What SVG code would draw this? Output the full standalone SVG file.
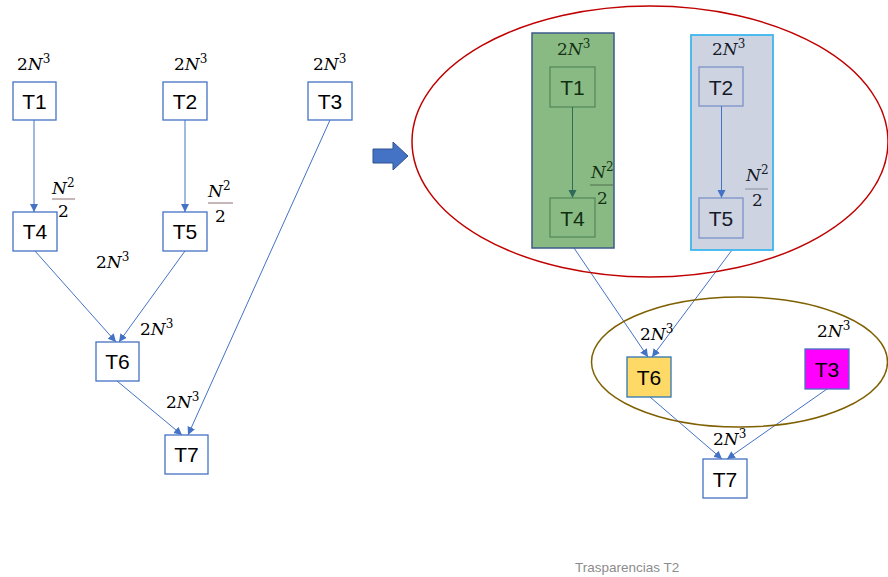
<svg xmlns="http://www.w3.org/2000/svg" width="888" height="577" viewBox="0 0 888 577">
<defs>
<style>
.box{fill:#fff;stroke:#4472c4;stroke-width:1.3}
.lbl{font-family:"Liberation Sans",Arial,sans-serif;font-size:21px;fill:#000;text-anchor:middle}
.m{font-family:"DejaVu Serif","Liberation Serif",serif;font-size:17px;fill:#000}
.conn{stroke:#4472c4;stroke-width:1;fill:none;marker-end:url(#ah)}
.fr{stroke:#8c7070;stroke-width:1}
</style>
<marker id="ah" markerUnits="userSpaceOnUse" markerWidth="10" markerHeight="10" refX="8" refY="4" orient="auto">
<path d="M0,0 L8,4 L0,8 Z" fill="#4472c4"/>
</marker>
<marker id="ahg" markerUnits="userSpaceOnUse" markerWidth="10" markerHeight="10" refX="8" refY="4" orient="auto">
<path d="M0,0 L8,4 L0,8 Z" fill="#2f6b5a"/>
</marker>
</defs>
<rect width="888" height="577" fill="#fff"/>

<g id="connectors">
<path class="conn" d="M34,120 L34,212"/>
<path class="conn" d="M185,120 L185,212"/>
<path class="conn" d="M35,251 L116,342"/>
<path class="conn" d="M185,251 L119,342"/>
<path class="conn" d="M117,381 L182,435"/>
<path class="conn" d="M330,120 L188,435"/>
<path class="conn" d="M574,248 L648,357"/>
<path class="conn" d="M732,250 L652,357"/>
<path class="conn" d="M650,397 L722,459"/>
<path class="conn" d="M827,389 L727,459"/>
</g>

<g id="left-T1"><rect class="box" x="13" y="82" width="43" height="38"/><text class="lbl" x="34.5" y="109">T1</text>
<text class="m" x="17" y="70">2<tspan font-style="italic">N</tspan><tspan font-size="12" dy="-7">3</tspan></text></g>
<g id="left-T2"><rect class="box" x="163" y="82" width="44" height="38"/><text class="lbl" x="185" y="109">T2</text>
<text class="m" x="174" y="70">2<tspan font-style="italic">N</tspan><tspan font-size="12" dy="-7">3</tspan></text></g>
<g id="left-T3"><rect class="box" x="308" y="82" width="44" height="38"/><text class="lbl" x="330" y="109">T3</text>
<text class="m" x="313" y="70">2<tspan font-style="italic">N</tspan><tspan font-size="12" dy="-7">3</tspan></text></g>
<g id="left-T4"><rect class="box" x="13" y="212" width="44" height="39"/><text class="lbl" x="35" y="239">T4</text>
<text class="m" x="52" y="194"><tspan font-style="italic">N</tspan><tspan font-size="12" dy="-7">2</tspan></text>
<line class="fr" x1="52" y1="199" x2="75" y2="199"/>
<text class="m" x="58" y="217">2</text></g>
<g id="left-T5"><rect class="box" x="163" y="212" width="44" height="39"/><text class="lbl" x="185" y="239">T5</text>
<text class="m" x="208" y="197"><tspan font-style="italic">N</tspan><tspan font-size="12" dy="-7">2</tspan></text>
<line class="fr" x1="208" y1="203" x2="233" y2="203"/>
<text class="m" x="215" y="222">2</text></g>
<g id="left-T6"><rect class="box" x="96" y="342" width="43" height="39"/><text class="lbl" x="117.5" y="369">T6</text>
<text class="m" x="96" y="268">2<tspan font-style="italic">N</tspan><tspan font-size="12" dy="-7">3</tspan></text>
<text class="m" x="140" y="335">2<tspan font-style="italic">N</tspan><tspan font-size="12" dy="-7">3</tspan></text></g>
<g id="left-T7"><rect class="box" x="165" y="435" width="43" height="39"/><text class="lbl" x="186.5" y="462">T7</text>
<text class="m" x="166" y="408">2<tspan font-style="italic">N</tspan><tspan font-size="12" dy="-7">3</tspan></text></g>

<g id="block-arrow"><polygon points="373,149 393,149 393,142 408,156 393,170 393,163 373,163" fill="#4472c4" stroke="#2f528f" stroke-width="1"/></g>

<g id="red-group"><ellipse cx="650" cy="141.5" rx="238" ry="135.5" fill="none" stroke="#c00000" stroke-width="1.5"/></g>

<g id="green-cluster">
<rect x="532" y="33" width="82" height="215" fill="#8aba84" stroke="#3d5a8a" stroke-width="1.5"/>
<text class="m" x="557" y="55" style="fill:#143214">2<tspan font-style="italic">N</tspan><tspan font-size="12" dy="-7">3</tspan></text>
<rect x="550" y="67" width="45" height="40" fill="none" stroke="#558a5c" stroke-width="1.3"/>
<text class="lbl" x="572.5" y="95" style="fill:#0f2f10">T1</text>
<path d="M572.5,107 L572.5,198" stroke="#2f6b5a" stroke-width="1" marker-end="url(#ahg)"/>
<rect x="550" y="198" width="45" height="39" fill="none" stroke="#558a5c" stroke-width="1.3"/>
<text class="lbl" x="572.5" y="226" style="fill:#0f2f10">T4</text>
<text class="m" x="591" y="178" style="fill:#143214"><tspan font-style="italic">N</tspan><tspan font-size="12" dy="-7">2</tspan></text>
<line x1="590" y1="185" x2="613" y2="185" stroke="#4a6e4a" stroke-width="1"/>
<text class="m" x="597" y="204" style="fill:#143214">2</text>
</g>

<g id="gray-cluster">
<rect x="691" y="35" width="82" height="215" fill="#cdd3e1" stroke="#3fb6ef" stroke-width="1.8"/>
<text class="m" x="712" y="55" style="fill:#151a28">2<tspan font-style="italic">N</tspan><tspan font-size="12" dy="-7">3</tspan></text>
<rect x="699" y="67" width="44" height="39" fill="none" stroke="#7a93c8" stroke-width="1.3"/>
<text class="lbl" x="721" y="95" style="fill:#151a28">T2</text>
<path class="conn" d="M721.5,106 L721.5,198"/>
<rect x="699" y="198" width="44" height="40" fill="none" stroke="#7a93c8" stroke-width="1.3"/>
<text class="lbl" x="721" y="226" style="fill:#151a28">T5</text>
<text class="m" x="746" y="181" style="fill:#151a28"><tspan font-style="italic">N</tspan><tspan font-size="12" dy="-7">2</tspan></text>
<line x1="745" y1="189" x2="768" y2="189" stroke="#8a8f9a" stroke-width="1"/>
<text class="m" x="752" y="206" style="fill:#151a28">2</text>
</g>

<g id="olive-group"><ellipse cx="739.5" cy="362" rx="148" ry="65" fill="none" stroke="#7f6000" stroke-width="1.5"/></g>

<g id="right-T6"><rect x="627" y="357" width="44" height="40" fill="#ffd966" stroke="#2e75b6" stroke-width="1.3"/><text class="lbl" x="649" y="385">T6</text>
<text class="m" x="640" y="340">2<tspan font-style="italic">N</tspan><tspan font-size="12" dy="-7">3</tspan></text></g>
<g id="right-T3"><rect x="805" y="349" width="44" height="40" fill="#ff00ff" stroke="#4472c4" stroke-width="1.3"/><text class="lbl" x="827" y="377">T3</text>
<text class="m" x="817" y="337">2<tspan font-style="italic">N</tspan><tspan font-size="12" dy="-7">3</tspan></text></g>
<g id="right-T7"><rect class="box" x="703" y="459" width="44" height="39"/><text class="lbl" x="725" y="487">T7</text>
<text class="m" x="713" y="445">2<tspan font-style="italic">N</tspan><tspan font-size="12" dy="-7">3</tspan></text></g>

<text x="575" y="572" font-family="'Liberation Sans',Arial,sans-serif" font-size="13.5" fill="#8c8c8c">Trasparencias T2</text>
</svg>
